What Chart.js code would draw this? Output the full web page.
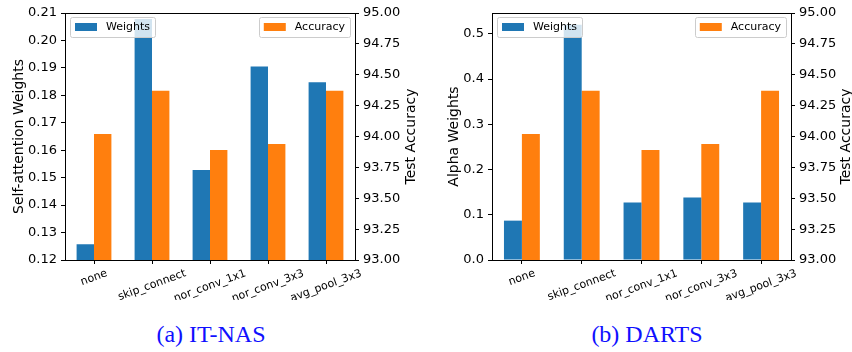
<!DOCTYPE html>
<html>
<head>
<meta charset="utf-8">
<script src="https://cdn.jsdelivr.net/npm/chart.js@4.4.1/dist/chart.umd.min.js"></script>
<style>
  html, body { margin: 0; padding: 0; background: #fff; }
  #wrap { position: relative; width: 852px; height: 352px; overflow: hidden; }
  canvas { position: absolute; top: 0; }
  .cap { position: absolute; top: 321px; width: 240px; text-align: center;
         font-family: 'Liberation Serif', serif; font-size: 24px; line-height: 27px; color: #1010ff; }
</style>
</head>
<body>
<div id="wrap">
  <canvas id="itnas" width="430" height="300" style="left:0"></canvas>
  <canvas id="darts" width="427" height="300" style="left:425px"></canvas>
  <div class="cap" style="left:91px">(a) IT-NAS</div>
  <div class="cap" style="left:527px">(b) DARTS</div>
</div>
<script>
var ops = ['none', 'skip_connect', 'nor_conv_1x1', 'nor_conv_3x3', 'avg_pool_3x3'];

var itnasWeights = [0.1257, 0.2078, 0.1528, 0.1905, 0.1848];
var itnasAccuracy = [94.02, 94.37, 93.89, 93.94, 94.37];

var dartsWeights = [0.087, 0.52, 0.127, 0.138, 0.127];
var dartsAccuracy = [94.02, 94.37, 93.89, 93.94, 94.37];

var accTicks = { min: 93, max: 95, step: 0.25 };

Chart.defaults.font.family = 'DejaVu Sans';
Chart.defaults.color = '#000';

function legendBox(ctx, x, y, label, color, alignRight) {
    ctx.font = '11px "DejaVu Sans"';
    var tw = ctx.measureText(label).width;
    var w = 5 + 22 + 9 + tw + 5, h = 20;
    var bx = alignRight ? x - w : x;
    ctx.fillStyle = 'rgba(255,255,255,0.8)';
    ctx.strokeStyle = '#cccccc';
    ctx.lineWidth = 1;
    ctx.beginPath();
    ctx.roundRect(Math.round(bx) + 0.5, Math.round(y) + 0.5, Math.round(w), h, 2);
    ctx.fill();
    ctx.stroke();
    ctx.fillStyle = color;
    ctx.fillRect(bx + 5, y + 6, 22, 8);
    ctx.fillStyle = '#000';
    ctx.textAlign = 'left';
    ctx.textBaseline = 'middle';
    ctx.fillText(label, bx + 36, y + 10.5);
}

var decor = {
    id: 'decor',
    afterDraw: function(chart, args, o) {
        var ctx = chart.ctx, a = chart.chartArea;
        ctx.save();
        // box around axes
        ctx.strokeStyle = '#000';
        ctx.lineWidth = 1;
        ctx.strokeRect(Math.round(a.left) + 0.5, Math.round(a.top) + 0.5,
                       Math.round(a.right - a.left), Math.round(a.bottom - a.top));

        // rotated category labels, centred on the tick
        var xs = chart.scales.x;
        var th = 20 * Math.PI / 180;
        ctx.font = '11px "DejaVu Sans"';
        ctx.fillStyle = '#000';
        chart.data.labels.forEach(function(lab, i) {
            var x = xs.getPixelForTick(i);
            var w = ctx.measureText(lab).width, h = 13;
            var cy = a.bottom + 7 + (w * Math.sin(th) + h * Math.cos(th)) / 2;
            ctx.save();
            ctx.translate(x, cy);
            ctx.rotate(-th);
            ctx.textAlign = 'center';
            ctx.textBaseline = 'middle';
            ctx.fillText(lab, 0, 0);
            ctx.restore();
        });

        // axis titles
        var midY = (a.top + a.bottom) / 2;
        ctx.font = '14px "DejaVu Sans"';
        ctx.textAlign = 'center';
        ctx.textBaseline = 'middle';
        ctx.save();
        ctx.translate(a.left - o.leftGap, midY);
        ctx.rotate(-Math.PI / 2);
        ctx.fillText(o.leftTitle, 0, 0);
        ctx.restore();
        ctx.save();
        ctx.translate(a.right + o.rightGap, midY);
        ctx.rotate(-Math.PI / 2);
        ctx.fillText('Test Accuracy', 0, 0);
        ctx.restore();

        // legends inside the axes
        legendBox(ctx, a.left + 5, a.top + 4, 'Weights', '#1f77b4', false);
        legendBox(ctx, a.right - 5, a.top + 4, 'Accuracy', '#ff7f0e', true);
        ctx.restore();
    }
};

function makeChart(id, weights, accuracy, o) {
    var ctx = document.getElementById(id).getContext('2d');
    return new Chart(ctx, {
        type: 'bar',
        data: {
            labels: ops,
            datasets: [{
                label: 'Weights',
                data: weights,
                yAxisID: 'y',
                backgroundColor: '#1f77b4',
                borderWidth: 0
            }, {
                label: 'Accuracy',
                data: accuracy,
                yAxisID: 'y1',
                backgroundColor: '#ff7f0e',
                borderWidth: 0
            }]
        },
        options: {
            responsive: false,
            animation: false,
            categoryPercentage: 0.6,
            barPercentage: 1.0,
            layout: { padding: { top: 13, left: 0, right: 0, bottom: 0 } },
            plugins: {
                legend: { display: false },
                tooltip: { enabled: false },
                decor: { leftTitle: o.title, leftGap: o.leftGap, rightGap: o.rightGap }
            },
            scales: {
                x: {
                    afterFit: function(s) { s.height = 40; },
                    ticks: { display: false },
                    grid: { offset: false, drawOnChartArea: false, tickLength: 4, color: '#000' },
                    border: { display: false }
                },
                y: {
                    position: 'left',
                    min: o.min, max: o.max,
                    afterFit: function(s) { s.width = o.leftW; },
                    ticks: {
                        stepSize: o.step, includeBounds: false, padding: 4,
                        font: { size: 13 }, color: '#000',
                        callback: function(v) { return v.toFixed(o.dec); }
                    },
                    grid: { drawOnChartArea: false, tickLength: 4, color: '#000' },
                    border: { display: false }
                },
                y1: {
                    position: 'right',
                    min: accTicks.min, max: accTicks.max,
                    afterFit: function(s) { s.width = o.rightW; },
                    ticks: {
                        stepSize: accTicks.step, includeBounds: false, padding: 4,
                        font: { size: 13 }, color: '#000',
                        callback: function(v) { return v.toFixed(2); }
                    },
                    grid: { drawOnChartArea: false, tickLength: 4, color: '#000' },
                    border: { display: false }
                }
            }
        },
        plugins: [decor]
    });
}

makeChart('itnas', itnasWeights, itnasAccuracy, {
    title: 'Self-attention Weights', min: 0.12, max: 0.21, step: 0.01, dec: 2,
    leftW: 65, rightW: 75, leftGap: 46, rightGap: 56
});
makeChart('darts', dartsWeights, dartsAccuracy, {
    title: 'Alpha Weights', min: 0, max: 0.546, step: 0.1, dec: 1,
    leftW: 67, rightW: 61, leftGap: 38, rightGap: 55
});
</script>
</body>
</html>
